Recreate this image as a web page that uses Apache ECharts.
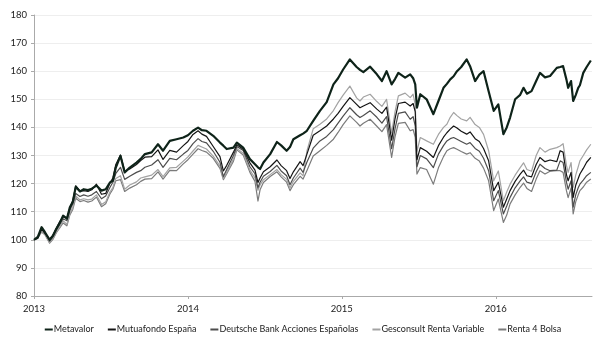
<!DOCTYPE html>
<html>
<head>
<meta charset="utf-8">
<script src="https://cdn.jsdelivr.net/npm/echarts@6/dist/echarts.min.js"></script>
<style>
  html, body { margin: 0; padding: 0; background: #fff; }
  #chart { width: 606px; height: 347px; }
</style>
</head>
<body>
<div id="chart"></div>
<script>
// Observation dates shared by all five funds
const dates = [
  '2013-01-01','2013-01-10','2013-01-19','2013-01-27','2013-02-07','2013-02-15','2013-02-23','2013-03-03',
  '2013-03-11','2013-03-20','2013-03-27','2013-04-03','2013-04-10','2013-04-20','2013-04-29','2013-05-09',
  '2013-05-18','2013-05-29','2013-06-10','2013-06-20','2013-06-30','2013-07-07','2013-07-14','2013-07-25',
  '2013-08-04','2013-08-16','2013-09-01','2013-09-11','2013-09-21','2013-10-07','2013-10-22','2013-11-03',
  '2013-11-19','2013-12-05','2013-12-21','2014-01-01','2014-01-13','2014-01-25','2014-02-03','2014-02-14',
  '2014-03-02','2014-03-18','2014-03-26','2014-04-03','2014-04-19','2014-04-27','2014-05-12','2014-05-28',
  '2014-06-09','2014-06-16','2014-06-21','2014-06-29','2014-07-15','2014-07-31','2014-08-10','2014-08-23',
  '2014-08-31','2014-09-08','2014-09-24','2014-10-01','2014-10-10','2014-10-25','2014-11-10','2014-11-26',
  '2014-12-12','2014-12-23','2015-01-04','2015-01-20','2015-02-05','2015-02-13','2015-02-21','2015-03-09',
  '2015-03-25','2015-04-06','2015-04-17','2015-04-29','2015-05-07','2015-05-15','2015-05-31','2015-06-12',
  '2015-06-19','2015-06-24','2015-06-28','2015-07-06','2015-07-21','2015-08-06','2015-08-18','2015-08-30',
  '2015-09-07','2015-09-15','2015-09-23','2015-10-01','2015-10-11','2015-10-24','2015-11-01','2015-11-13',
  '2015-11-23','2015-12-03','2015-12-15','2015-12-27','2016-01-07','2016-01-19','2016-01-27','2016-02-04',
  '2016-02-16','2016-02-28','2016-03-07','2016-03-15','2016-03-26','2016-04-06','2016-04-15','2016-04-27',
  '2016-05-09','2016-05-25','2016-06-02','2016-06-09','2016-06-17','2016-06-21','2016-06-28','2016-07-03',
  '2016-07-09','2016-07-15','2016-07-19','2016-07-27','2016-08-04','2016-08-14'
];

// Base-100 values per fund
const metavalor = [
  100,101,104.5,102.7,100,101.5,103.9,106,108.6,107.5,111.6,113.5,118.9,117.2,118,117.7,
  118.2,119.3,117.5,118,120.4,121,125.7,129.9,124,125.7,127.5,128.8,130.5,131.1,134,131.7,
  135.2,135.8,136.4,137.2,138.8,139.9,139,138.8,137,134.6,133.5,132.3,132.8,134.6,132.8,128.7,
  126.9,125.8,125.2,127.5,130.5,134.8,133.6,131.7,133,135.8,137.2,137.8,138.8,142.3,145.9,149,
  155.3,157.5,160.6,164.2,161.5,160.5,159.7,161.6,158.9,156.5,160,155.3,157.2,159.4,157.7,158.9,
  157.5,155.3,147,151.8,150,144.7,149.4,154.1,155.5,157.1,158.2,160,161.5,164.2,161.8,156.5,
  158.8,160,152.9,145.9,148.2,137.6,140,143.5,150,151.6,154.1,152,152.9,156.5,159.4,157.8,
  158.3,161.2,161.5,161.8,157,154.1,156.5,149.4,151.5,154.1,155,159.4,161.5,163.8
];
const mutuafondo = [
  100,100.5,103.8,102.3,100.2,101.6,104.2,106.5,108.2,107.8,111.2,114,119.2,117.4,117.5,117.2,
  117.8,119.8,116.2,116.5,120.2,122,126.8,130.2,124.5,125.2,126.8,128.2,129.4,129.6,132,128.6,
  131.8,131.2,133.5,135,137.5,138.8,137.6,136.8,133.2,129.6,124.5,126.5,131.2,133.8,132.2,127.4,
  124.8,120.4,122,124.2,126,128.4,126.4,124.6,121.8,124.2,127.8,126.4,130.4,137.2,138.8,140.5,
  143,145,147.5,150.6,148.2,147,147.6,148.8,146.5,145,147.2,135.5,143,148.5,149,147.6,
  148.5,145.5,128.5,132.8,131.5,129.3,133.5,136.5,138.1,139.4,140.5,139.8,138.6,137.6,138.4,136,
  135,132.5,128.1,117.5,120.5,111.6,114.5,117.5,120.8,123.4,124.8,122.8,122.4,126.8,129.3,127.8,
  128.4,127.8,131.7,131.2,123.2,121,124,115.1,119.4,121.8,123.4,125.4,127.6,129.3
];
const deutsche = [
  100,100.8,104,102.5,99.5,101,103.5,105.5,107.5,106.8,110.5,112.8,116.5,115.4,116,115.5,
  116,117.2,114.6,115.6,118.6,120.5,123.6,125.8,121.5,122.6,124,124.6,125.8,126.6,128.5,125.8,
  129,128.5,130.5,131.8,134.2,136,135,134.5,131.5,127.6,122.5,125,130,133.2,131.8,126,
  123.5,118.5,120.5,122.6,124.3,126.5,124.5,122.8,119.6,122,125.5,124,127.6,132.6,135.2,136.8,
  139.2,141.5,144,147,144.5,143.5,144.2,145.9,143.6,141.5,143.8,132.4,139.5,145,145.5,142.9,
  143.8,140.5,126,130,128.8,125.7,130.5,133.5,135.2,136,136.4,135.8,135,134,134.6,132.5,
  131.5,129,124.6,113.9,117.5,109.2,112,115.1,118.5,121,122.4,120.5,120,124.2,126.9,125.4,
  124.6,124.8,128.1,127.5,120.5,118,121,111.6,116,118.5,119.8,121.2,122.8,124
];
const gesconsult = [
  100,101,103,102,99,100.5,102.8,104.6,106.8,105.5,109.4,111.5,115.6,114.2,114.6,114.2,
  114.5,116,112.6,113.5,117,118.6,121.8,122.8,118,119.5,120.6,122,122.4,123,125,122.5,
  125.6,125.8,128,129.5,131.6,133.6,133,132.3,129.8,126.2,121.8,124,128.8,132.5,130.8,124.8,
  122,117.6,119.5,121.4,123.2,125,123.2,121.5,118.4,120.8,123.8,122.8,131.5,139.5,141.1,143,
  146,148.8,151.5,154.7,150.5,149.4,150.8,151.8,149.2,147.5,150,138,145.5,151.2,152.2,150.6,
  151.8,148,131.5,136.4,135.2,134,137.5,140,141.1,143.6,145.3,144.2,143,142.3,143.6,141,
  140,137.5,131.7,121,124.5,113.9,117,119.8,123,125.7,127.4,125,124.4,130,132.8,131.2,
  132.2,132.8,133.4,134.2,126.5,124,127.5,118.7,123,126,128.1,130,132,134
];
const renta4 = [
  100,100.6,102.8,101.8,98.8,100.2,102.5,104.2,106,105,108.8,110.8,114.8,113.6,114,113.4,
  113.8,115.2,111.8,112.8,116.3,118,121,121.4,117.2,118.4,119.6,120.8,121.6,121.8,124.2,121.6,
  124.7,124.6,127,128.5,130.5,132.4,131.8,131.2,129,125.4,121.4,123.5,128,132,130.2,124,
  120.8,113.8,117.8,120.4,122.5,124.2,122.4,120.5,117.5,119.6,122.6,121.6,124.6,129.8,131.7,133.6,
  135.8,138.2,141,144.1,141.8,140.5,141.5,142.9,140.4,138.5,141,129.3,136.6,141.4,141.8,138.8,
  139.2,136.5,123.4,125.7,125,119.8,125.6,129.6,131.7,132.4,132.8,132.2,131.4,130.5,131,129,
  128,125.5,121,110.4,114.5,106.2,108.8,112.8,116,118.7,120.2,118.3,117.2,121.6,124.6,123.4,
  124.4,124.6,124.6,124,117.5,115,118.5,109.2,113.5,116,117.5,118.8,120.5,121.6
];

const yearTicks = [2013, 2014, 2015, 2016];

// Convert an ISO date into a fractional year so the x axis stays linear in time
function toYear(s) {
  const [y, m, d] = s.split('-').map(Number);
  const start = Date.UTC(y, 0, 1);
  const end = Date.UTC(y + 1, 0, 1);
  return y + (Date.UTC(y, m - 1, d) - start) / (end - start);
}
const xs = dates.map(toYear);
const pair = vals => vals.map((v, i) => [xs[i], v]);

const funds = [
  { name: 'Metavalor', data: metavalor, color: '#0e2319', width: 2.2, z: 10 },
  { name: 'Mutuafondo España', data: mutuafondo, color: '#141414', width: 1.2, z: 9 },
  { name: 'Deutsche Bank Acciones Españolas', data: deutsche, color: '#4d4d4d', width: 1.2, z: 7 },
  { name: 'Gesconsult Renta Variable', data: gesconsult, color: '#a3a3a3', width: 1.2, z: 6 },
  { name: 'Renta 4 Bolsa', data: renta4, color: '#7b7b7b', width: 1.2, z: 5 }
];

const chart = echarts.init(document.getElementById('chart'), null, { renderer: 'canvas' });
const font = 'Lato, "Noto Sans", sans-serif';

chart.setOption({
  animation: false,
  backgroundColor: '#ffffff',
  textStyle: { fontFamily: font },
  grid: { left: 34, right: 14, top: 15, bottom: 51, containLabel: false },
  legend: {
    top: 320,
    left: 'center',
    itemWidth: 8,
    itemHeight: 2,
    itemGap: 14,
    icon: 'rect',
    textStyle: { fontFamily: font, fontSize: 9, color: '#222', padding: [0, 0, 0, -4] },
    data: funds.map(f => f.name)
  },
  xAxis: {
    type: 'value',
    min: 2013,
    max: 2016.625,
    interval: 1,
    axisLine: { lineStyle: { color: '#aaaaaa', width: 1 } },
    axisTick: { show: true, length: 3, lineStyle: { color: '#aaaaaa' }, customValues: yearTicks },
    axisLabel: { customValues: yearTicks, color: '#222', fontSize: 9.5, margin: 8,
                 formatter: v => String(Math.round(v)) },
    splitLine: { show: false }
  },
  yAxis: {
    type: 'value',
    min: 80,
    max: 180,
    interval: 10,
    axisLine: { show: true, lineStyle: { color: '#aaaaaa', width: 1 } },
    axisTick: { show: true, length: 3, lineStyle: { color: '#aaaaaa' } },
    axisLabel: { color: '#222', fontSize: 9.5, margin: 7 },
    splitLine: { show: true, lineStyle: { color: '#eeeeee', width: 1 } }
  },
  series: funds.map(f => ({
    name: f.name,
    type: 'line',
    data: pair(f.data),
    showSymbol: false,
    symbol: 'none',
    z: f.z,
    color: f.color,
    lineStyle: { color: f.color, width: f.width, join: 'round' }
  }))
});
</script>
</body>
</html>
